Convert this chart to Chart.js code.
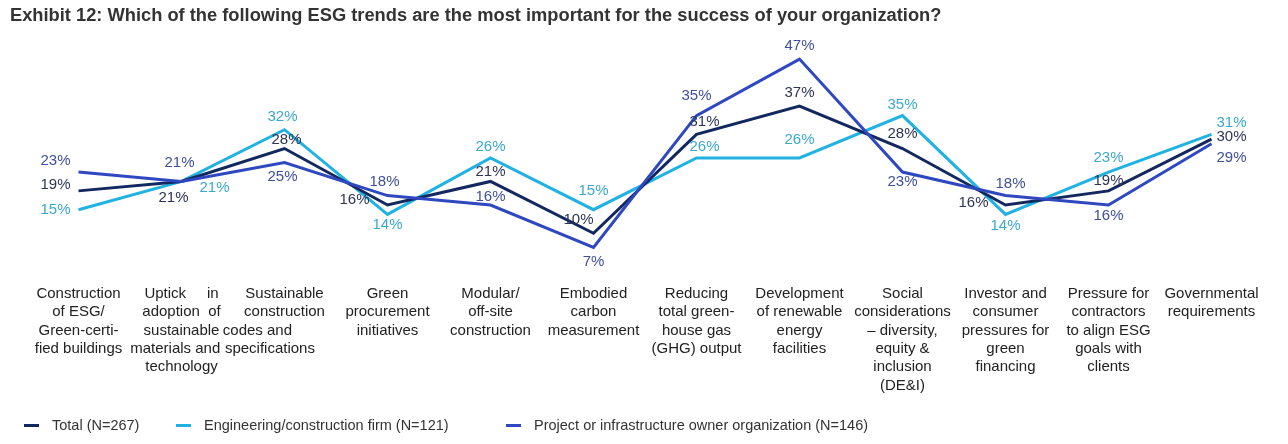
<!DOCTYPE html>
<html>
<head>
<meta charset="utf-8">
<script src="https://cdn.jsdelivr.net/npm/chart.js@4.4.1/dist/chart.umd.min.js"></script>
<style>
  html, body { margin: 0; padding: 0; background: #fff; }
  #wrap { position: relative; width: 1288px; height: 444px; }
  #legend { position: absolute; top: 415px; left: 0; width: 1288px; height: 20px;
            font: 14.5px 'Liberation Sans', Arial, sans-serif; color: #333; }
  .item { position: absolute; top: 0; white-space: nowrap; line-height: 20px; }
  .item i { display: inline-block; width: 15px; height: 3px; vertical-align: middle;
            margin-right: 13px; position: relative; top: -1px; }
</style>
</head>
<body>
<div id="wrap">
  <canvas id="esgChart" width="1288" height="444"></canvas>
  <div id="legend"></div>
</div>
<script>
const categories = [
    ['Construction', 'of ESG/', 'Green-certi-', 'fied buildings'],
    ['Uptick     in', 'adoption  of', 'sustainable', 'materials and   ', 'technology'],
    ['Sustainable', 'construction', 'codes and             ', 'specifications       '],
    ['Green', 'procurement', 'initiatives'],
    ['Modular/', 'off-site', 'construction'],
    ['Embodied', 'carbon', 'measurement'],
    ['Reducing', 'total green-', 'house gas', '(GHG) output'],
    ['Development', 'of renewable', 'energy', 'facilities'],
    ['Social', 'considerations', '\u2013 diversity,', 'equity &', 'inclusion', '(DE&I)'],
    ['Investor and', 'consumer', 'pressures for', 'green', 'financing'],
    ['Pressure for', 'contractors', 'to align ESG', 'goals with', 'clients'],
    ['Governmental', 'requirements']
];
const seriesNames = [
    'Total (N=267)',
    'Engineering/construction firm (N=121)',
    'Project or infrastructure owner organization (N=146)'
];
const totalValues = [19, 21, 28, 16, 21, 10, 31, 37, 28, 16, 19, 30];
const engineeringValues = [15, 21, 32, 14, 26, 15, 26, 26, 35, 14, 23, 31];
const ownerValues = [23, 21, 25, 18, 16, 7, 35, 47, 23, 18, 16, 29];

// where each value label sits relative to its point (dx, dy)
const totalLabelOffsets = [[-23,-6],[-8,16],[2,-9],[-33,-5],[0,-10],[-15,-13],[8,-13],[0,-13],[0,-15],[-32,-2],[0,-10],[20,-2]];
const engLabelOffsets = [[-23,0],[33,6],[-2,-13],[0,10],[0,-11],[0,-19],[8,-11],[0,-18],[0,-11],[0,11],[0,-14],[20,-12]];
const ownerLabelOffsets = [[-23,-11],[-2,-19],[-2,14],[-3,-14],[0,-8],[0,15],[0,-20],[0,-13],[0,10],[5,-12],[0,11],[20,14]];

const FONT = "'Liberation Sans', Arial, sans-serif";

const valueLabels = {
    id: 'valueLabels',
    afterDatasetsDraw(chart) {
        const ctx = chart.ctx;
        ctx.save();
        ctx.font = '15px ' + FONT;
        ctx.textAlign = 'center';
        ctx.textBaseline = 'middle';
        chart.data.datasets.forEach((ds, i) => {
            const meta = chart.getDatasetMeta(i);
            ctx.fillStyle = ds.labelColor;
            meta.data.forEach((pt, j) => {
                const off = ds.labelOffsets[j];
                ctx.fillText(ds.data[j] + '%', pt.x + off[0], pt.y + off[1]);
            });
        });
        ctx.restore();
    }
};

const esgChart = document.getElementById('esgChart');

const chart = new Chart(esgChart, {
    type: 'line',
    data: {
        labels: categories,
        datasets: [{
            label: seriesNames[0],
            data: totalValues,
            borderColor: '#13285e',
            labelColor: '#2e3453',
            labelOffsets: totalLabelOffsets,
            borderWidth: 3,
            pointRadius: 0,
            order: 2
        }, {
            label: seriesNames[1],
            data: engineeringValues,
            borderColor: '#22b2e2',
            labelColor: '#3ba8cf',
            labelOffsets: engLabelOffsets,
            borderWidth: 3,
            pointRadius: 0,
            order: 3
        }, {
            label: seriesNames[2],
            data: ownerValues,
            borderColor: '#2f48c0',
            labelColor: '#3f4f9c',
            labelOffsets: ownerLabelOffsets,
            borderWidth: 3,
            pointRadius: 0,
            order: 1
        }]
    },
    options: {
        responsive: false,
        animation: false,
        layout: {
            padding: { left: 10, right: 25, top: 0, bottom: 45 }
        },
        scales: {
            x: {
                offset: true,
                grid: { display: false, drawTicks: false },
                border: { display: false },
                ticks: {
                    autoSkip: false,
                    maxRotation: 0,
                    minRotation: 0,
                    padding: 4,
                    color: '#222',
                    font: { family: FONT, size: 15, lineHeight: 1.23 }
                }
            },
            y: {
                min: 0,
                max: 50,
                grid: { display: false },
                border: { display: false },
                ticks: { display: false },
                afterFit(scale) { scale.width = 17; }
            }
        },
        plugins: {
            legend: { display: false },
            tooltip: { enabled: false },
            title: {
                display: true,
                align: 'start',
                text: 'Exhibit 12: Which of the following ESG trends are the most important for the success of your organization?',
                color: '#333',
                font: { family: FONT, size: 18.3, weight: 'bold' },
                padding: { top: 5, bottom: 18 }
            }
        }
    },
    plugins: [valueLabels]
});

// legend in plain html, spaced like the original
const legendX = [24, 176, 506];
const legendEl = document.getElementById('legend');
chart.data.datasets.forEach((ds, i) => {
    const item = document.createElement('div');
    item.className = 'item';
    item.style.left = legendX[i] + 'px';
    item.innerHTML = '<i style="background:' + ds.borderColor + '"></i>' + ds.label;
    legendEl.appendChild(item);
});
</script>
</body>
</html>
